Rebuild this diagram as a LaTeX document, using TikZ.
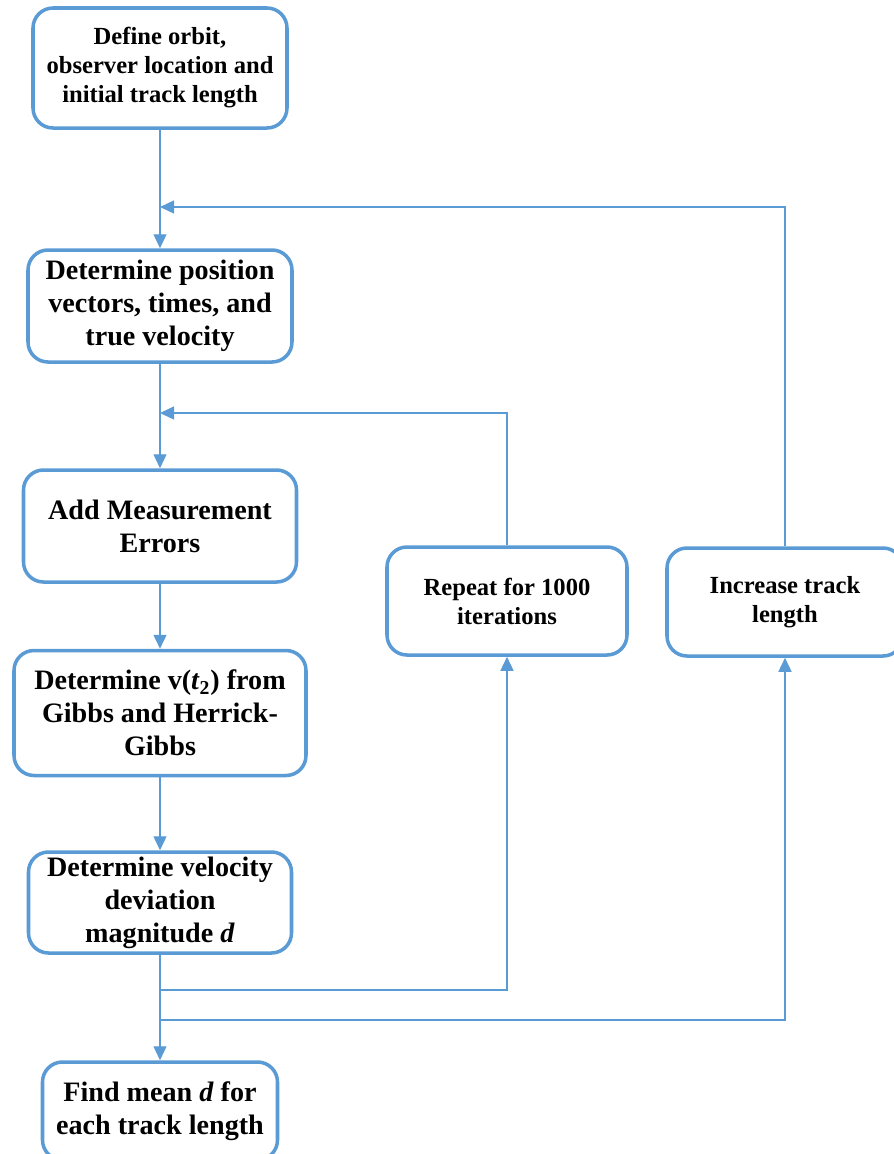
\documentclass[tikz,border=0pt]{standalone}
\usepackage{fontspec}
\setmainfont{Liberation Serif}
\usetikzlibrary{arrows.meta}
\definecolor{boxblue}{RGB}{91,155,213}
\begin{document}
\begin{tikzpicture}[
    every node/.style={align=center},
    stage box/.style={draw=boxblue, line width=2pt, rounded corners=0.4cm, fill=white, inner sep=0pt, font=\fontsize{16}{18.8}\selectfont\bfseries},
    small box/.style={stage box, font=\fontsize{14}{16.5}\selectfont\bfseries},
    flow line/.style={draw=boxblue, line width=0.8pt},
    flow arrow/.style={flow line, -{Triangle[length=0.28cm, width=0.26cm]}},
    ]
\useasboundingbox (0,0) rectangle (17.88,-23.08);
\clip (0,0) rectangle (17.88,-23.08);
\node[small box, minimum width=5.08cm, minimum height=2.40cm] (define) at (3.200000,-1.360000) {Define orbit,\\observer location and\\initial track length};
\node[stage box, minimum width=5.28cm, minimum height=2.24cm] (position) at (3.200000,-6.120000) {Determine position\\vectors, times, and\\true velocity};
\node[stage box, minimum width=5.46cm, minimum height=2.24cm] (errors) at (3.200000,-10.520000) {Add Measurement\\Errors};
\node[stage box, minimum width=5.84cm, minimum height=2.50cm] (velocity) at (3.200000,-14.260000) {Determine v(\textit{t}\textsubscript{2}) from\\Gibbs and Herrick-\\Gibbs};
\node[stage box, minimum width=5.26cm, minimum height=2.02cm] (deviation) at (3.200000,-18.050000) {Determine velocity\\deviation\\magnitude \textit{d}};
\node[stage box, minimum width=4.70cm, minimum height=1.96cm] (mean) at (3.200000,-22.220000) {Find mean \textit{d} for\\each track length};
\node[small box, minimum width=4.80cm, minimum height=2.16cm] (repeat) at (10.140000,-12.020000) {Repeat for 1000\\iterations};
\node[small box, minimum width=4.72cm, minimum height=2.16cm] (increase) at (15.700000,-12.040000) {Increase track\\length};
\coordinate (outer) at (3.200000,-4.140000);
\coordinate (inner) at (3.200000,-8.260000);
\coordinate (split1) at (3.200000,-19.800000);
\coordinate (split2) at (3.200000,-20.400000);
\draw[flow arrow] (define) -- (position);
\draw[flow arrow] (position) -- (errors);
\draw[flow arrow] (errors) -- (velocity);
\draw[flow arrow] (velocity) -- (deviation);
\draw[flow arrow] (deviation) -- (mean);
\draw[flow arrow] (increase.north) |- (outer);
\draw[flow arrow] (repeat.north) |- (inner);
\draw[flow arrow] (split1) -| (repeat.south);
\draw[flow arrow] (split2) -| (increase.south);
\end{tikzpicture}
\end{document}
